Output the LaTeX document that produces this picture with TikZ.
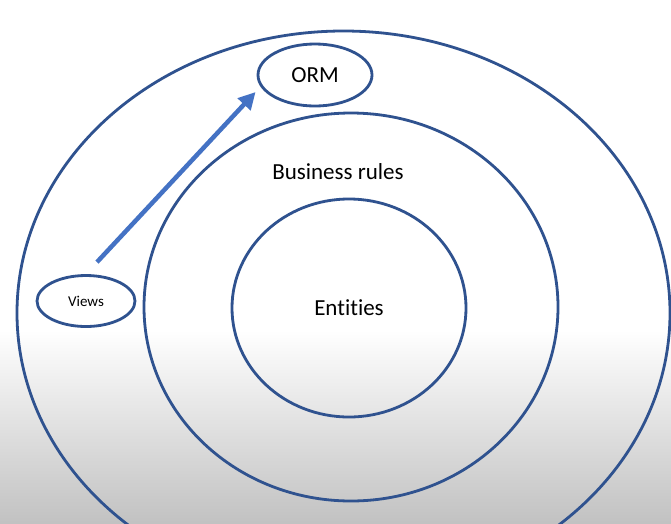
\documentclass[tikz,border=0pt]{standalone}
\usepackage{fontspec}
\setmainfont{Carlito}[Ligatures={NoCommon}]
\usetikzlibrary{shapes.geometric, arrows.meta}

\definecolor{ringblue}{HTML}{2F528F}
\definecolor{arrowblue}{HTML}{4472C4}

\begin{document}
\begin{tikzpicture}[x=1pt, y=1pt,
  ring/.style={ellipse, draw=ringblue, line width=2.8pt, inner sep=0pt},
  bigtext/.style={font=\fontsize{23}{27}\selectfont}]
\useasboundingbox (0,0) rectangle (671,-523);
\fill[white] (0,0) rectangle (671,-330);
\shade[top color=white, bottom color=black!24] (0,-330) rectangle (671,-523);

\node[ring, minimum width=653, minimum height=564] (layers) at (343.5,-313) {};
\node[ring, minimum width=414, minimum height=388] (usecases) at (351,-307) {};
\node[ring, minimum width=234, minimum height=218, bigtext] (entities) at (349,-308) {Entities};
\node[bigtext] (rules) at (338,-172) {Business rules};
\node[ring, minimum width=114, minimum height=62, bigtext] (orm) at (315,-75) {ORM};
\node[ring, minimum width=98, minimum height=51, font=\fontsize{15}{18}\selectfont] (views) at (86,-301) {Views};

\draw[-{Triangle[length=17pt, width=17pt]}, line width=4.5pt, arrowblue]
  ([xshift=11pt, yshift=12pt]views.north) -- ([xshift=-1pt, yshift=-17pt]orm.west);

\end{tikzpicture}
\end{document}
